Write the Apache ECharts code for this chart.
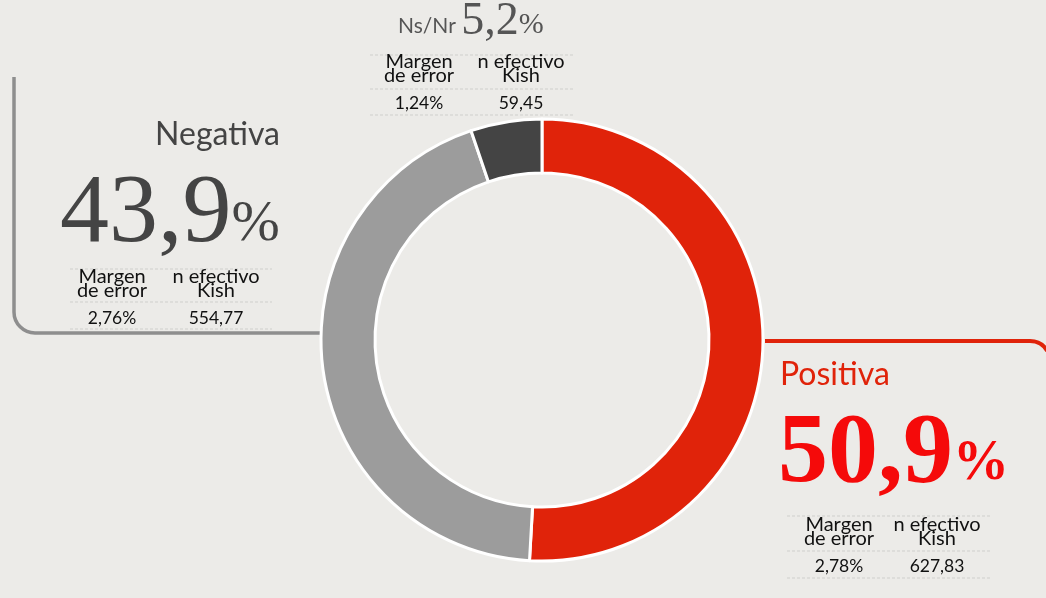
<!DOCTYPE html>
<html>
<head>
<meta charset="utf-8">
<script src="https://cdn.jsdelivr.net/npm/echarts@6/dist/echarts.min.js"></script>
<style>
  html, body { margin: 0; padding: 0; background: #ecebe8; }
  /* tamaño fijo igual que la captura */
  #main { width: 1046px; height: 598px; }
</style>
</head>
<body>
<div id="main"></div>
<script>
// datos de la encuesta
const categories = ['Positiva', 'Negativa', 'Ns/Nr']
const values = [50.9, 43.9, 5.2]
const margins = ['2,78%', '2,76%', '1,24%']
const kish = ['627,83', '554,77', '59,45']
const colHeaders = ['Margen\nde error', 'n efectivo\nKish']

const sliceColors = ['#e0230a', '#9c9c9c', '#444444']

function pct (v) {
  return v.toFixed(1).replace('.', ',')
}

const sans = 'Lato, "Open Sans", sans-serif'
const serif = '"Liberation Serif", "DejaVu Serif", serif'

// tabla pequeña: margen de error / n efectivo
function table (i, x1, x2, yTop, yMid, yBot, c1, c2, yHead, yVal) {
  const els = []
  ;[yTop, yMid, yBot].forEach(y => {
    els.push({
      type: 'line',
      shape: { x1: x1, y1: y, x2: x2, y2: y },
      style: { stroke: '#cfcfcc', lineWidth: 1, lineDash: [3, 2] }
    })
  })
  ;[c1, c2].forEach((cx, k) => {
    els.push({
      type: 'text',
      x: cx,
      y: yHead,
      style: {
        text: colHeaders[k],
        font: '20px ' + sans,
        lineHeight: 14,
        fill: '#111',
        align: 'center',
        verticalAlign: 'middle'
      }
    })
    els.push({
      type: 'text',
      x: cx,
      y: yVal,
      style: {
        text: k === 0 ? margins[i] : kish[i],
        font: '17.5px ' + sans,
        fill: '#111',
        align: 'center',
        verticalAlign: 'middle'
      }
    })
  })
  return els
}

const grayLine = { stroke: '#8e8e8e', lineWidth: 3.5, fill: null }
const redLine = { stroke: '#e0230a', lineWidth: 4, fill: null }

const graphics = [
  // marco Negativa
  { type: 'line', shape: { x1: 14, y1: 77, x2: 14, y2: 312 }, style: grayLine },
  { type: 'arc', shape: { cx: 35, cy: 312, r: 21, startAngle: Math.PI / 2, endAngle: Math.PI, clockwise: true }, style: grayLine },
  { type: 'line', shape: { x1: 35, y1: 333, x2: 322, y2: 333 }, style: grayLine },
  // marco Positiva
  { type: 'line', shape: { x1: 765, y1: 341, x2: 1030, y2: 341 }, style: redLine },
  { type: 'arc', shape: { cx: 1030, cy: 361, r: 20, startAngle: -Math.PI / 2, endAngle: -Math.PI / 6, clockwise: true }, style: redLine },
  // Negativa
  {
    type: 'text', x: 280, y: 135,
    style: { text: categories[1], font: '32px ' + sans, fill: '#444', align: 'right', verticalAlign: 'middle' }
  },
  {
    type: 'text', x: 60, y: 215,
    style: {
      text: '{a|' + pct(values[1]) + '}{b|%}',
      align: 'left',
      verticalAlign: 'middle',
      rich: {
        a: { font: '98px ' + serif, fill: '#444' },
        b: { font: '58px ' + serif, fill: '#444', padding: [20, 0, 0, 0] }
      }
    }
  },
  // Ns/Nr
  {
    type: 'text', x: 398, y: 22,
    style: {
      text: '{n|' + categories[2] + ' }{a|' + pct(values[2]) + '}{b|%}',
      align: 'left',
      verticalAlign: 'middle',
      rich: {
        n: { font: '21px ' + sans, fill: '#555', padding: [8, 0, 0, 0] },
        a: { font: '46px ' + serif, fill: '#555' },
        b: { font: '30px ' + serif, fill: '#555', padding: [6, 0, 0, 0] }
      }
    }
  },
  // Positiva
  {
    type: 'text', x: 780, y: 375,
    style: { text: categories[0], font: '32px ' + sans, fill: '#e0230a', align: 'left', verticalAlign: 'middle' }
  },
  {
    type: 'text', x: 778, y: 455,
    style: {
      text: '{a|' + pct(values[0]) + '}{b|%}',
      align: 'left',
      verticalAlign: 'middle',
      rich: {
        a: { font: 'bold 100px ' + serif, fill: '#f50a0a' },
        b: { font: 'bold 56px ' + serif, fill: '#f50a0a', padding: [20, 0, 0, 0] }
      }
    }
  }
]
  .concat(table(1, 70, 272, 269, 302, 329, 112, 216, 284, 318))
  .concat(table(2, 370, 574, 55, 89, 115, 419, 521, 69, 103))
  .concat(table(0, 787, 992, 516, 551, 578, 839, 937, 532, 566))

const myChart = echarts.init(document.getElementById('main'))
myChart.setOption({
  backgroundColor: '#ecebe8',
  animation: false,
  graphic: graphics,
  series: [
    {
      type: 'pie',
      center: [542, 340],
      radius: [167, 221],
      startAngle: 90,
      clockwise: true,
      label: { show: false },
      labelLine: { show: false },
      itemStyle: { borderColor: '#ffffff', borderWidth: 3 },
      data: categories.map((c, i) => ({
        name: c,
        value: values[i],
        itemStyle: { color: sliceColors[i] }
      }))
    }
  ]
})
</script>
</body>
</html>
